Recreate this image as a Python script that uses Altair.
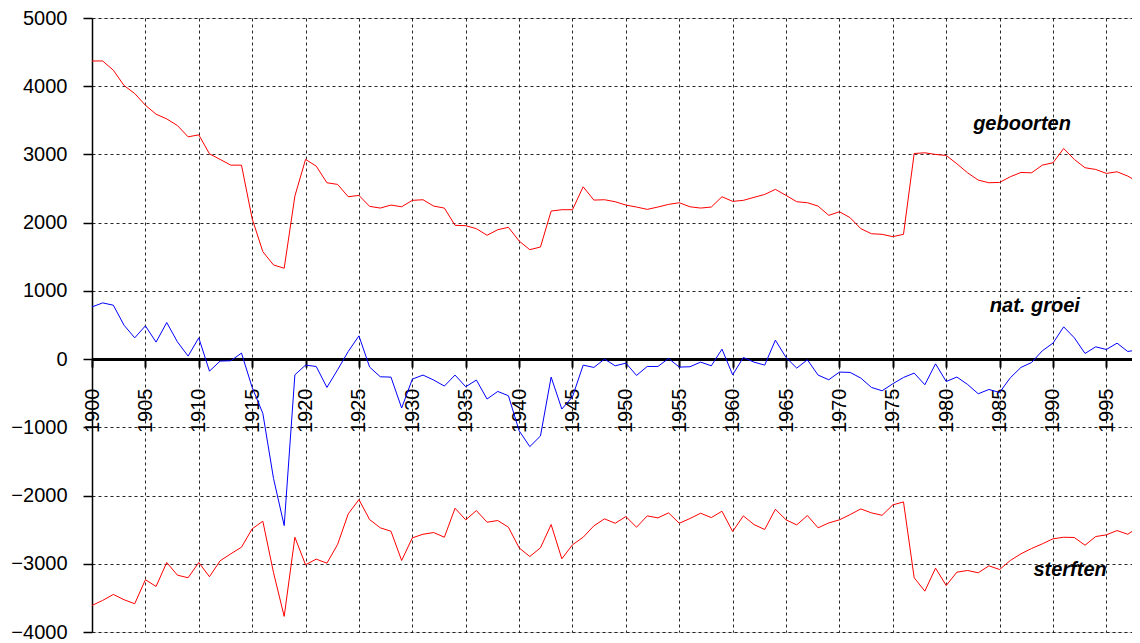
import altair as alt
import pandas as pd

years = list(range(1900, 1999))

geboorten = [
    4370, 4370, 4235, 4010, 3893, 3722, 3590, 3521, 3424, 3258,
    3287, 3009, 2927, 2843, 2843, 2058, 1575, 1380, 1332, 2390,
    2927, 2829, 2585, 2561, 2380, 2400, 2239, 2214, 2258, 2233,
    2327, 2336, 2243, 2214, 1961, 1956, 1912, 1815, 1897, 1932,
    1731, 1604, 1643, 2170, 2190, 2190, 2526, 2331, 2336, 2307,
    2258, 2229, 2195, 2229, 2268, 2292, 2233, 2214, 2229, 2380,
    2312, 2327, 2371, 2414, 2488, 2400, 2307, 2292, 2243, 2107,
    2160, 2073, 1912, 1838, 1829, 1795, 1829, 3014, 3024, 3000,
    2985, 2863, 2731, 2624, 2585, 2590, 2673, 2736, 2731, 2843,
    2878, 3087, 2927, 2805, 2780, 2722, 2746, 2683, 2595,
]

sterften = [
    -3611, -3537, -3449, -3527, -3586, -3234, -3332, -2981, -3167, -3205,
    -2981, -3190, -2956, -2854, -2757, -2488, -2376, -3130, -3771, -2611,
    -3015, -2932, -2991, -2717, -2268, -2059, -2352, -2473, -2523, -2952,
    -2620, -2567, -2542, -2611, -2186, -2356, -2220, -2391, -2366, -2464,
    -2766, -2894, -2766, -2425, -2927, -2722, -2611, -2444, -2342, -2406,
    -2308, -2464, -2298, -2327, -2254, -2406, -2337, -2259, -2323, -2230,
    -2527, -2298, -2425, -2498, -2201, -2356, -2430, -2293, -2473, -2401,
    -2356, -2279, -2196, -2254, -2289, -2137, -2093, -3205, -3401, -3064,
    -3318, -3123, -3098, -3132, -3030, -3084, -2952, -2854, -2776, -2708,
    -2634, -2611, -2615, -2728, -2601, -2576, -2513, -2567, -2464,
]

nat_groei = [
    765, 824, 790, 497, 312, 487, 249, 536, 253, 44,
    312, -176, -29, -24, 88, -415, -796, -1750, -2440, -230,
    -88, -108, -415, -156, 112, 341, -117, -259, -264, -717,
    -293, -234, -307, -395, -234, -405, -307, -585, -474, -537,
    -1049, -1283, -1127, -263, -732, -552, -88, -122, 0, -98,
    -59, -239, -108, -108, 10, -117, -112, -44, -98, 146,
    -230, 24, -44, -88, 278, 24, -132, -10, -234, -303,
    -190, -195, -278, -415, -464, -361, -269, -205, -376, -69,
    -328, -263, -371, -508, -445, -489, -274, -122, -49, 122,
    234, 473, 312, 83, 180, 141, 234, 112, 136,
]

series_names = ["geboorten", "sterften", "nat. groei"]
series_colors = ["#ff0000", "#ff0000", "#0000ff"]

label_names = ["geboorten", "nat. groei", "sterften"]
label_years = [1987.1, 1988.3, 1991.6]
label_values = [3444, 780, -3098]

assert len(geboorten) == len(sterften) == len(nat_groei) == len(years)

rows = []
for name, vals in zip(series_names, [geboorten, sterften, nat_groei]):
    for yr, v in zip(years, vals):
        rows.append({"jaar": yr, "waarde": v, "reeks": name})
df = pd.DataFrame(rows)
labels_df = pd.DataFrame({"jaar": label_years, "waarde": label_values, "naam": label_names})

W, H = 1040, 614
y_domain = [-4000, 5000]
x_domain = [1900, 1997.4]
zero_offset = -H * (0 - y_domain[0]) / (y_domain[1] - y_domain[0])
FONT = "Liberation Sans"

x_enc = alt.X(
    "jaar:Q",
    scale=alt.Scale(domain=x_domain, nice=False, zero=False),
    axis=alt.Axis(
        values=list(range(1900, 1996, 5)), format="d", title=None,
        labelAngle=270, labelFontSize=20, labelFont=FONT, labelColor="black",
        labelPadding=21, labelFlush=False, labelOverlap=False,
        tickSize=8, tickWidth=2, tickColor="black",
        domainColor="black", domainWidth=3, offset=zero_offset,
        grid=True, gridDash=[3, 3], gridColor="black", gridOpacity=0.85, gridWidth=1,
    ),
)
y_enc = alt.Y(
    "waarde:Q",
    scale=alt.Scale(domain=y_domain, nice=False),
    axis=alt.Axis(
        values=list(range(-4000, 5001, 1000)), format="d", title=None,
        labelFontSize=20, labelFont=FONT, labelColor="black",
        labelPadding=16, labelFlush=False, labelOverlap=False,
        tickSize=9, tickWidth=1.5, tickColor="black",
        domainColor="black", domainWidth=1.5,
        grid=True, gridDash=[3, 3], gridColor="black", gridOpacity=0.85, gridWidth=1,
    ),
)

lines = alt.Chart(df).mark_line(strokeWidth=1, clip=True).encode(
    x=x_enc,
    y=y_enc,
    color=alt.Color("reeks:N", scale=alt.Scale(domain=series_names, range=series_colors), legend=None),
    detail="reeks:N",
)

texts = alt.Chart(labels_df).mark_text(
    fontSize=20, fontWeight="bold", fontStyle="italic", font=FONT, color="black"
).encode(x="jaar:Q", y="waarde:Q", text="naam:N")

chart = alt.layer(lines, texts).properties(
    width=W, height=H,
    autosize=alt.AutoSizeParams(type="none"),
    padding={"left": 84, "top": 10, "right": 0, "bottom": 10},
).configure_view(stroke=None).configure(background="white")

chart.save("out.html", embed_options={"renderer": "svg", "actions": False})
